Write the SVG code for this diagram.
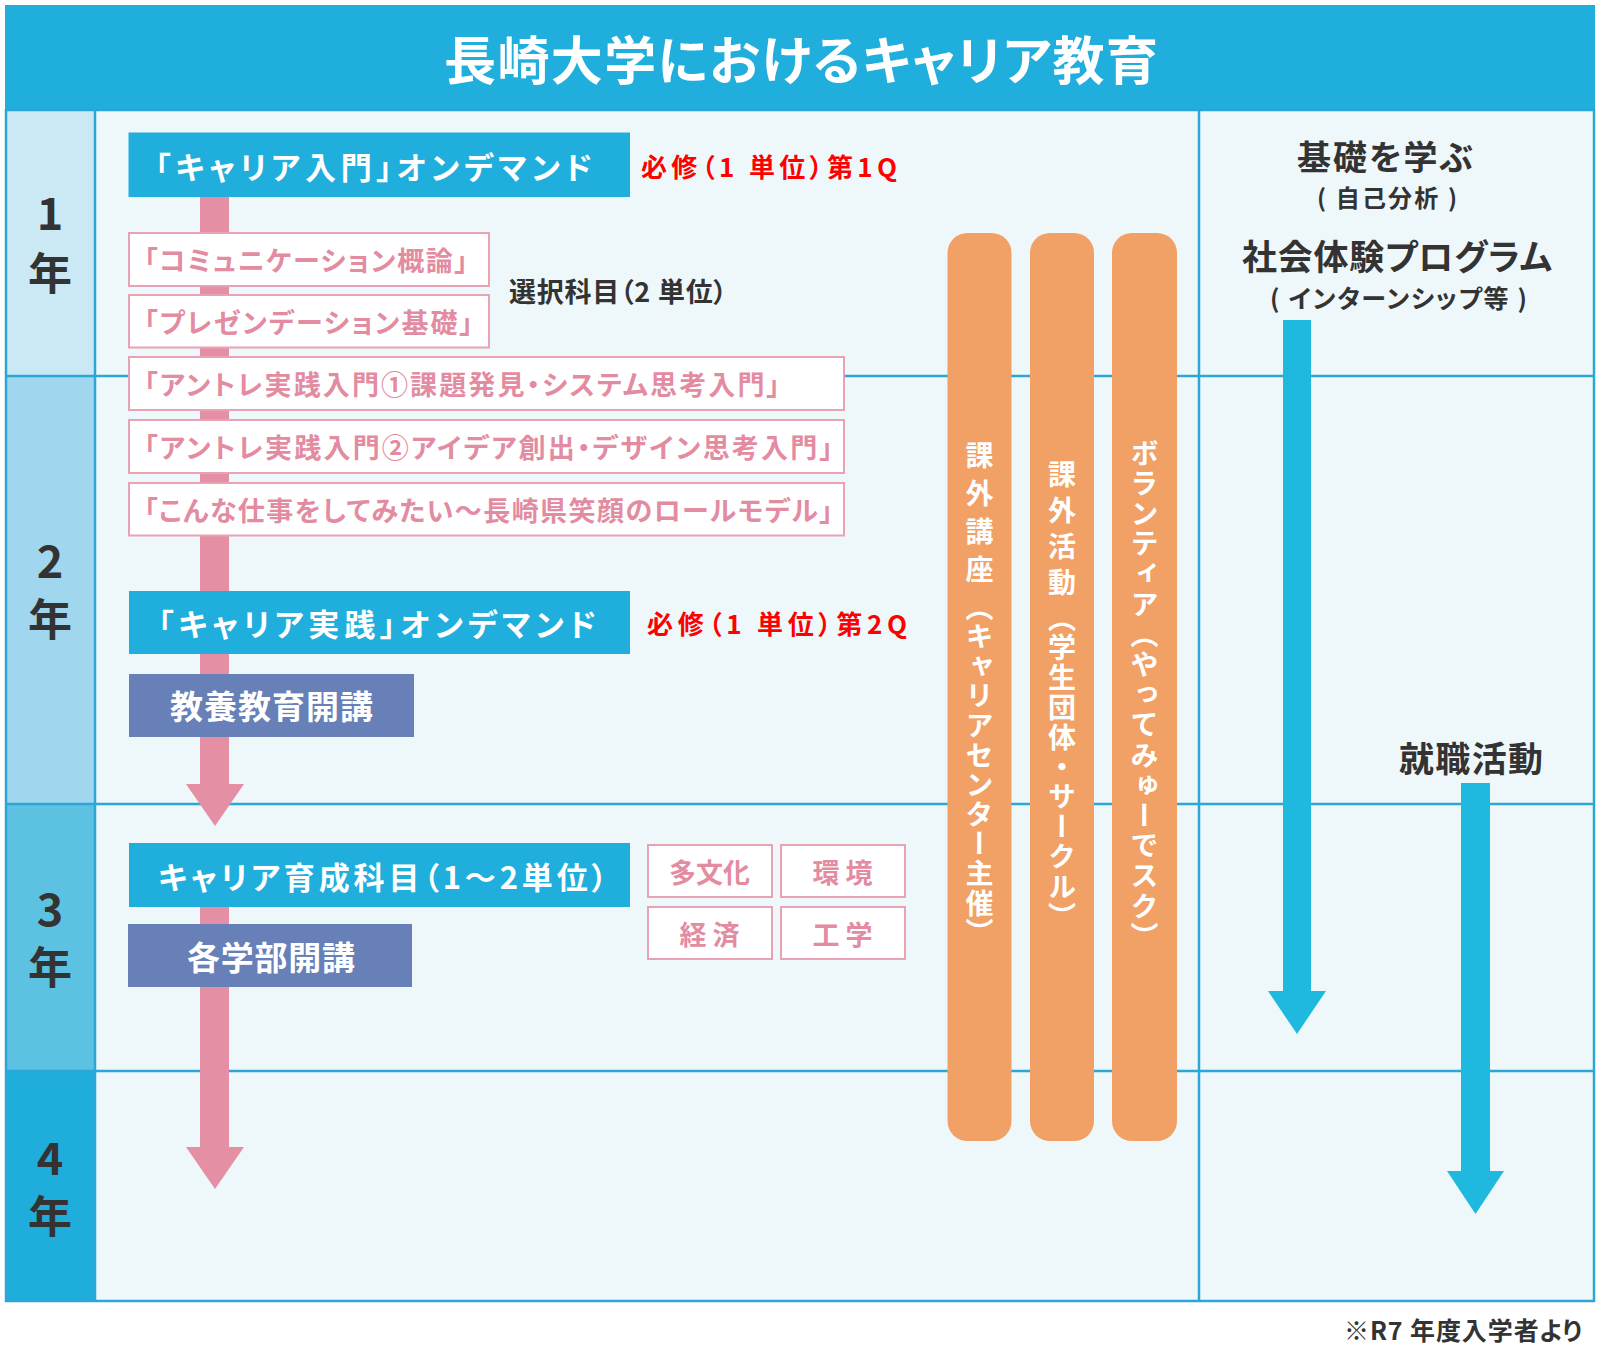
<svg xmlns="http://www.w3.org/2000/svg" width="1600" height="1350" viewBox="0 0 1600 1350">
<style>
text{font-family:"Noto Sans CJK JP","Noto Sans CJK SC",sans-serif;font-weight:700;dominant-baseline:central;font-feature-settings:"palt"}
.w{fill:#ffffff}
.d{fill:#333333}
.r{fill:#ff0000}
.p{fill:#e38ba1}
.grid{stroke:#2ca6d6;stroke-width:2.5;fill:none}
.blue{fill:#20aedd}
.purple{fill:#6780b8}
.pinkbox{fill:#ffffff;stroke:#e9a2b3;stroke-width:2}
.bar{fill:#f1a066}
.parrow{fill:#e48fa3}
.barrow{fill:#1fb8df}
.vt{writing-mode:vertical-rl;font-feature-settings:normal;font-size:28px}
</style>
<rect x="0" y="0" width="1600" height="1350" fill="#ffffff"/>
<g id="header">
<rect x="5" y="5" width="1590" height="105" class="blue"/>
<text x="801" y="57" class="w" font-size="52" text-anchor="middle" textLength="714">長崎大学におけるキャリア教育</text>
</g>
<g id="table">
<rect x="5" y="110" width="1590" height="1191" fill="#eef7fa"/>
<rect x="5" y="110" width="90" height="266" fill="#cbe8f5"/>
<rect x="5" y="376" width="90" height="428" fill="#a0d7ee"/>
<rect x="5" y="804" width="90" height="267" fill="#5dc2e2"/>
<rect x="5" y="1071" width="90" height="230" fill="#1faedc"/>
<line x1="5" y1="376" x2="1595" y2="376" class="grid"/>
<line x1="5" y1="804" x2="1595" y2="804" class="grid"/>
<line x1="5" y1="1071" x2="1595" y2="1071" class="grid"/>
<line x1="95" y1="110" x2="95" y2="1301" class="grid"/>
<line x1="1199" y1="110" x2="1199" y2="1301" class="grid"/>
<rect x="6" y="110" width="1588" height="1191" class="grid"/>
</g>
<g id="year1"><text x="50" y="210" class="d" font-size="45" text-anchor="middle">1</text><text x="50" y="271" class="d" font-size="44" text-anchor="middle">年</text></g>
<g id="year2"><text x="50" y="558" class="d" font-size="45" text-anchor="middle">2</text><text x="50" y="617" class="d" font-size="44" text-anchor="middle">年</text></g>
<g id="year3"><text x="50" y="906" class="d" font-size="45" text-anchor="middle">3</text><text x="50" y="965" class="d" font-size="44" text-anchor="middle">年</text></g>
<g id="year4"><text x="50" y="1155" class="d" font-size="45" text-anchor="middle">4</text><text x="50" y="1214" class="d" font-size="44" text-anchor="middle">年</text></g>
<g id="connectors">
<rect x="200" y="195" width="29" height="590" class="parrow"/>
<polygon points="186,784 244,784 215,826" class="parrow"/>
<rect x="200" y="845" width="29" height="303" class="parrow"/>
<polygon points="186,1147 244,1147 215,1189" class="parrow"/>
<rect x="1283" y="320" width="28" height="672" class="barrow"/>
<polygon points="1268,991 1326,991 1297,1034" class="barrow"/>
<rect x="1461" y="783" width="29" height="389" class="barrow"/>
<polygon points="1447,1171 1504,1171 1475.5,1214" class="barrow"/>
</g>
<g id="career-intro">
<rect x="128.5" y="132.5" width="501.5" height="64.5" class="blue"/>
<text x="155" y="165" class="w" font-size="31" textLength="437">「キャリア入門」オンデマンド</text>
<text x="641" y="165" class="r" font-size="26" textLength="256">必修（1 単位）第1Q</text>
</g>
<g id="elective1"><rect x="129" y="233" width="360" height="53" class="pinkbox"/><text x="144" y="259.5" class="p" font-size="27" textLength="324">「コミュニケーション概論」</text></g>
<g id="elective2"><rect x="129" y="295" width="360" height="52.5" class="pinkbox"/><text x="144" y="321" class="p" font-size="27" textLength="329">「プレゼンデーション基礎」</text></g>
<g id="elective-label"><text x="509" y="290" class="d" font-size="27" textLength="218">選択科目（2 単位）</text></g>
<g id="elective3"><rect x="129" y="357" width="715" height="53" class="pinkbox"/><text x="144" y="383.5" class="p" font-size="27" textLength="636">「アントレ実践入門①課題発見・システム思考入門」</text></g>
<g id="elective4"><rect x="129" y="420" width="715" height="53" class="pinkbox"/><text x="144" y="446.5" class="p" font-size="27" textLength="689">「アントレ実践入門②アイデア創出・デザイン思考入門」</text></g>
<g id="elective5"><rect x="129" y="483" width="715" height="52.5" class="pinkbox"/><text x="144" y="509" class="p" font-size="27" textLength="689">「こんな仕事をしてみたい〜長崎県笑顔のロールモデル」</text></g>
<g id="career-practice">
<rect x="129" y="591" width="501" height="63" class="blue"/>
<text x="158" y="622" class="w" font-size="31" textLength="438">「キャリア実践」オンデマンド</text>
<text x="647" y="622" class="r" font-size="26" textLength="260">必修（1 単位）第2Q</text>
</g>
<g id="liberal-arts"><rect x="129" y="674" width="285" height="63" class="purple"/><text x="170" y="705" class="w" font-size="33" textLength="203">教養教育開講</text></g>
<g id="career-dev">
<rect x="129" y="843" width="501" height="64" class="blue"/>
<text x="158" y="875" class="w" font-size="31" textLength="449">キャリア育成科目（1〜2単位）</text>
</g>
<g id="faculty"><rect x="128" y="924" width="284" height="63" class="purple"/><text x="187" y="956" class="w" font-size="33" textLength="168">各学部開講</text></g>
<g id="f-tabunka"><rect x="648" y="845" width="124" height="52" class="pinkbox"/><text x="709.5" y="871" class="p" font-size="27" text-anchor="middle">多文化</text></g>
<g id="f-kankyo"><rect x="781" y="845" width="124" height="52" class="pinkbox"/><text x="842.5" y="871" class="p" font-size="27" text-anchor="middle">環 境</text></g>
<g id="f-keizai"><rect x="648" y="907" width="124" height="52" class="pinkbox"/><text x="709.5" y="933" class="p" font-size="27" text-anchor="middle">経 済</text></g>
<g id="f-kogaku"><rect x="781" y="907" width="124" height="52" class="pinkbox"/><text x="842.5" y="933" class="p" font-size="27" text-anchor="middle">工 学</text></g>
<g id="bar1"><rect x="947.5" y="233" width="64" height="908" rx="20" class="bar"/><text x="979.5" y="441" class="w vt"><tspan letter-spacing="10">課外講座</tspan><tspan letter-spacing="1.6">（キャリアセンター主催）</tspan></text></g>
<g id="bar2"><rect x="1030" y="233" width="64" height="908" rx="20" class="bar"/><text x="1062" y="460" class="w vt"><tspan letter-spacing="8">課外活動</tspan><tspan letter-spacing="1.8">（学生団体・サークル）</tspan></text></g>
<g id="bar3"><rect x="1112" y="233" width="65" height="908" rx="20" class="bar"/><text x="1144.5" y="439" class="w vt" letter-spacing="2.2">ボランティア（やってみゅーでスク）</text></g>
<g id="basics">
<text x="1385" y="155" class="d" font-size="34" text-anchor="middle" textLength="176">基礎を学ぶ</text>
<text x="1387" y="196" class="d" font-size="24" text-anchor="middle" textLength="140">( 自己分析 )</text>
</g>
<g id="social">
<text x="1397" y="254" class="d" font-size="35" text-anchor="middle" textLength="310">社会体験プログラム</text>
<text x="1398.5" y="297" class="d" font-size="25" text-anchor="middle" textLength="257">( インターンシップ等 )</text>
</g>
<g id="job"><text x="1471" y="756" class="d" font-size="35" text-anchor="middle" textLength="144">就職活動</text></g>
<g id="footnote"><text x="1344" y="1329" class="d" font-size="25" textLength="238">※R7 年度入学者より</text></g>
</svg>
